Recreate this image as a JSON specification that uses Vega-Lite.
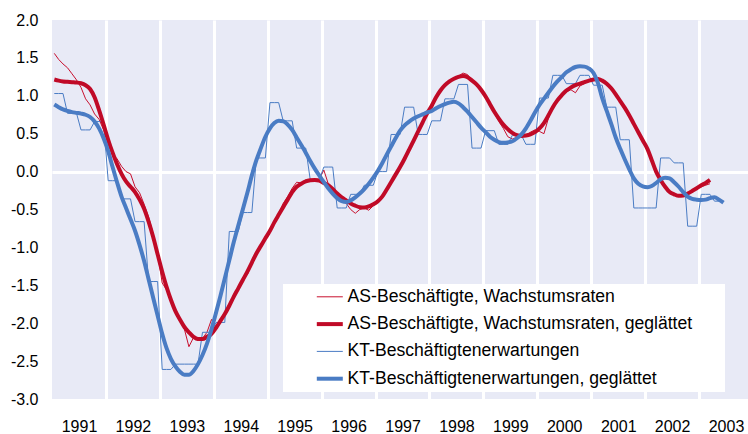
{
  "$schema": "https://vega.github.io/schema/vega-lite/v6.json",
  "width": 696,
  "height": 379,
  "autosize": {"type": "none"},
  "padding": {"left": 52, "top": 20, "right": 0, "bottom": 35},
  "background": "white",
  "config": {
    "font": "Liberation Sans",
    "view": {"fill": "#E8EAF6", "stroke": null},
    "axis": {"labelFont": "Liberation Sans", "labelFontSize": 16, "labelColor": "#000000", "domain": false, "ticks": false, "title": null}
  },
  "data": {"values": [
    {"d":"1991-01","a":1.56,"as":1.215,"k":1.03,"ks":0.885},
    {"d":"1991-02","a":1.48,"as":1.20,"k":1.03,"ks":0.85},
    {"d":"1991-03","a":1.42,"as":1.19,"k":1.03,"ks":0.82},
    {"d":"1991-04","a":1.37,"as":1.185,"k":0.77,"ks":0.80},
    {"d":"1991-05","a":1.29,"as":1.18,"k":0.77,"ks":0.785},
    {"d":"1991-06","a":1.21,"as":1.175,"k":0.77,"ks":0.775},
    {"d":"1991-07","a":1.11,"as":1.165,"k":0.55,"ks":0.765},
    {"d":"1991-08","a":0.96,"as":1.14,"k":0.55,"ks":0.75},
    {"d":"1991-09","a":0.88,"as":1.09,"k":0.55,"ks":0.72},
    {"d":"1991-10","a":0.76,"as":0.98,"k":0.66,"ks":0.66},
    {"d":"1991-11","a":0.69,"as":0.81,"k":0.66,"ks":0.57},
    {"d":"1991-12","a":0.55,"as":0.62,"k":0.66,"ks":0.44},
    {"d":"1992-01","a":0.36,"as":0.42,"k":-0.12,"ks":0.27},
    {"d":"1992-02","a":0.23,"as":0.25,"k":-0.12,"ks":0.06},
    {"d":"1992-03","a":0.17,"as":0.10,"k":-0.12,"ks":-0.14},
    {"d":"1992-04","a":0.07,"as":-0.03,"k":-0.36,"ks":-0.33},
    {"d":"1992-05","a":0.00,"as":-0.13,"k":-0.36,"ks":-0.48},
    {"d":"1992-06","a":-0.03,"as":-0.20,"k":-0.36,"ks":-0.63},
    {"d":"1992-07","a":-0.20,"as":-0.27,"k":-0.66,"ks":-0.78},
    {"d":"1992-08","a":-0.28,"as":-0.37,"k":-0.66,"ks":-0.97},
    {"d":"1992-09","a":-0.43,"as":-0.49,"k":-0.66,"ks":-1.18},
    {"d":"1992-10","a":-0.60,"as":-0.66,"k":-1.45,"ks":-1.42},
    {"d":"1992-11","a":-0.82,"as":-0.86,"k":-1.45,"ks":-1.66},
    {"d":"1992-12","a":-1.08,"as":-1.09,"k":-1.45,"ks":-1.90},
    {"d":"1993-01","a":-1.47,"as":-1.32,"k":-2.61,"ks":-2.14},
    {"d":"1993-02","a":-1.56,"as":-1.52,"k":-2.61,"ks":-2.33},
    {"d":"1993-03","a":-1.72,"as":-1.69,"k":-2.61,"ks":-2.47},
    {"d":"1993-04","a":-1.86,"as":-1.84,"k":-2.54,"ks":-2.57},
    {"d":"1993-05","a":-1.96,"as":-1.95,"k":-2.54,"ks":-2.64},
    {"d":"1993-06","a":-2.08,"as":-2.05,"k":-2.54,"ks":-2.68},
    {"d":"1993-07","a":-2.31,"as":-2.12,"k":-2.54,"ks":-2.68},
    {"d":"1993-08","a":-2.19,"as":-2.18,"k":-2.54,"ks":-2.63},
    {"d":"1993-09","a":-2.23,"as":-2.21,"k":-2.54,"ks":-2.54},
    {"d":"1993-10","a":-2.20,"as":-2.21,"k":-2.12,"ks":-2.42},
    {"d":"1993-11","a":-2.12,"as":-2.18,"k":-2.12,"ks":-2.27},
    {"d":"1993-12","a":-1.95,"as":-2.14,"k":-2.12,"ks":-2.08},
    {"d":"1994-01","a":-2.06,"as":-2.06,"k":-1.99,"ks":-1.86},
    {"d":"1994-02","a":-1.98,"as":-1.97,"k":-1.99,"ks":-1.64},
    {"d":"1994-03","a":-1.88,"as":-1.88,"k":-1.99,"ks":-1.41},
    {"d":"1994-04","a":-1.77,"as":-1.77,"k":-0.79,"ks":-1.17},
    {"d":"1994-05","a":-1.65,"as":-1.65,"k":-0.79,"ks":-0.93},
    {"d":"1994-06","a":-1.53,"as":-1.54,"k":-0.79,"ks":-0.71},
    {"d":"1994-07","a":-1.42,"as":-1.43,"k":-0.54,"ks":-0.50},
    {"d":"1994-08","a":-1.36,"as":-1.32,"k":-0.54,"ks":-0.28},
    {"d":"1994-09","a":-1.21,"as":-1.20,"k":-0.54,"ks":-0.05},
    {"d":"1994-10","a":-1.08,"as":-1.08,"k":0.18,"ks":0.15},
    {"d":"1994-11","a":-0.97,"as":-0.98,"k":0.18,"ks":0.31},
    {"d":"1994-12","a":-0.88,"as":-0.88,"k":0.18,"ks":0.46},
    {"d":"1995-01","a":-0.78,"as":-0.78,"k":0.91,"ks":0.57},
    {"d":"1995-02","a":-0.66,"as":-0.67,"k":0.91,"ks":0.64},
    {"d":"1995-03","a":-0.55,"as":-0.57,"k":0.91,"ks":0.67},
    {"d":"1995-04","a":-0.42,"as":-0.47,"k":0.67,"ks":0.665},
    {"d":"1995-05","a":-0.33,"as":-0.37,"k":0.67,"ks":0.62},
    {"d":"1995-06","a":-0.22,"as":-0.27,"k":0.67,"ks":0.55},
    {"d":"1995-07","a":-0.14,"as":-0.20,"k":0.31,"ks":0.45},
    {"d":"1995-08","a":-0.15,"as":-0.16,"k":0.31,"ks":0.35},
    {"d":"1995-09","a":-0.11,"as":-0.13,"k":0.31,"ks":0.25},
    {"d":"1995-10","a":-0.12,"as":-0.115,"k":-0.11,"ks":0.14},
    {"d":"1995-11","a":-0.10,"as":-0.11,"k":-0.11,"ks":0.04},
    {"d":"1995-12","a":-0.10,"as":-0.12,"k":-0.11,"ks":-0.05},
    {"d":"1996-01","a":0.02,"as":-0.15,"k":0.06,"ks":-0.14},
    {"d":"1996-02","a":-0.16,"as":-0.18,"k":0.06,"ks":-0.22},
    {"d":"1996-03","a":-0.25,"as":-0.23,"k":0.06,"ks":-0.29},
    {"d":"1996-04","a":-0.30,"as":-0.29,"k":-0.48,"ks":-0.35},
    {"d":"1996-05","a":-0.37,"as":-0.34,"k":-0.48,"ks":-0.39},
    {"d":"1996-06","a":-0.42,"as":-0.38,"k":-0.48,"ks":-0.40},
    {"d":"1996-07","a":-0.50,"as":-0.42,"k":-0.30,"ks":-0.38},
    {"d":"1996-08","a":-0.55,"as":-0.45,"k":-0.30,"ks":-0.34},
    {"d":"1996-09","a":-0.50,"as":-0.47,"k":-0.30,"ks":-0.29},
    {"d":"1996-10","a":-0.48,"as":-0.475,"k":-0.18,"ks":-0.23},
    {"d":"1996-11","a":-0.51,"as":-0.46,"k":-0.18,"ks":-0.16},
    {"d":"1996-12","a":-0.45,"as":-0.43,"k":-0.18,"ks":-0.08},
    {"d":"1997-01","a":-0.38,"as":-0.39,"k":0.00,"ks":0.01},
    {"d":"1997-02","a":-0.33,"as":-0.33,"k":0.00,"ks":0.11},
    {"d":"1997-03","a":-0.24,"as":-0.24,"k":0.00,"ks":0.22},
    {"d":"1997-04","a":-0.15,"as":-0.14,"k":0.49,"ks":0.33},
    {"d":"1997-05","a":-0.04,"as":-0.04,"k":0.49,"ks":0.44},
    {"d":"1997-06","a":0.06,"as":0.06,"k":0.49,"ks":0.54},
    {"d":"1997-07","a":0.18,"as":0.17,"k":0.85,"ks":0.61},
    {"d":"1997-08","a":0.29,"as":0.29,"k":0.85,"ks":0.66},
    {"d":"1997-09","a":0.41,"as":0.41,"k":0.85,"ks":0.70},
    {"d":"1997-10","a":0.54,"as":0.53,"k":0.49,"ks":0.73},
    {"d":"1997-11","a":0.66,"as":0.65,"k":0.49,"ks":0.755},
    {"d":"1997-12","a":0.77,"as":0.77,"k":0.49,"ks":0.78},
    {"d":"1998-01","a":0.88,"as":0.87,"k":0.67,"ks":0.80},
    {"d":"1998-02","a":0.98,"as":0.98,"k":0.67,"ks":0.835},
    {"d":"1998-03","a":1.07,"as":1.07,"k":0.67,"ks":0.865},
    {"d":"1998-04","a":1.15,"as":1.14,"k":0.96,"ks":0.89},
    {"d":"1998-05","a":1.18,"as":1.19,"k":0.96,"ks":0.91},
    {"d":"1998-06","a":1.23,"as":1.225,"k":0.96,"ks":0.92},
    {"d":"1998-07","a":1.26,"as":1.25,"k":1.15,"ks":0.90},
    {"d":"1998-08","a":1.30,"as":1.26,"k":1.15,"ks":0.85},
    {"d":"1998-09","a":1.28,"as":1.245,"k":1.15,"ks":0.79},
    {"d":"1998-10","a":1.20,"as":1.20,"k":0.31,"ks":0.72},
    {"d":"1998-11","a":1.16,"as":1.15,"k":0.31,"ks":0.65},
    {"d":"1998-12","a":1.07,"as":1.08,"k":0.31,"ks":0.58},
    {"d":"1999-01","a":0.99,"as":0.99,"k":0.54,"ks":0.52},
    {"d":"1999-02","a":0.88,"as":0.89,"k":0.54,"ks":0.46},
    {"d":"1999-03","a":0.78,"as":0.79,"k":0.54,"ks":0.42},
    {"d":"1999-04","a":0.66,"as":0.70,"k":0.36,"ks":0.39},
    {"d":"1999-05","a":0.57,"as":0.62,"k":0.36,"ks":0.38},
    {"d":"1999-06","a":0.46,"as":0.56,"k":0.36,"ks":0.385},
    {"d":"1999-07","a":0.43,"as":0.51,"k":0.48,"ks":0.40},
    {"d":"1999-08","a":0.45,"as":0.48,"k":0.48,"ks":0.44},
    {"d":"1999-09","a":0.48,"as":0.47,"k":0.48,"ks":0.49},
    {"d":"1999-10","a":0.48,"as":0.475,"k":0.36,"ks":0.57},
    {"d":"1999-11","a":0.52,"as":0.49,"k":0.36,"ks":0.67},
    {"d":"1999-12","a":0.55,"as":0.52,"k":0.36,"ks":0.78},
    {"d":"2000-01","a":0.53,"as":0.57,"k":0.97,"ks":0.88},
    {"d":"2000-02","a":0.50,"as":0.64,"k":0.97,"ks":0.96},
    {"d":"2000-03","a":0.70,"as":0.74,"k":0.97,"ks":1.04},
    {"d":"2000-04","a":0.85,"as":0.85,"k":1.27,"ks":1.12},
    {"d":"2000-05","a":0.93,"as":0.94,"k":1.27,"ks":1.19},
    {"d":"2000-06","a":1.02,"as":1.01,"k":1.27,"ks":1.25},
    {"d":"2000-07","a":1.05,"as":1.07,"k":1.16,"ks":1.31},
    {"d":"2000-08","a":1.08,"as":1.11,"k":1.16,"ks":1.35},
    {"d":"2000-09","a":1.04,"as":1.14,"k":1.16,"ks":1.38},
    {"d":"2000-10","a":1.13,"as":1.16,"k":1.27,"ks":1.39},
    {"d":"2000-11","a":1.16,"as":1.18,"k":1.27,"ks":1.385},
    {"d":"2000-12","a":1.19,"as":1.20,"k":1.27,"ks":1.36},
    {"d":"2001-01","a":1.22,"as":1.215,"k":1.14,"ks":1.30},
    {"d":"2001-02","a":1.24,"as":1.22,"k":1.14,"ks":1.17},
    {"d":"2001-03","a":1.20,"as":1.20,"k":1.14,"ks":0.97},
    {"d":"2001-04","a":1.16,"as":1.16,"k":0.85,"ks":0.80},
    {"d":"2001-05","a":1.10,"as":1.10,"k":0.85,"ks":0.63},
    {"d":"2001-06","a":1.02,"as":1.02,"k":0.85,"ks":0.45},
    {"d":"2001-07","a":0.93,"as":0.93,"k":0.42,"ks":0.30},
    {"d":"2001-08","a":0.84,"as":0.84,"k":0.42,"ks":0.16},
    {"d":"2001-09","a":0.73,"as":0.74,"k":0.42,"ks":0.03},
    {"d":"2001-10","a":0.62,"as":0.63,"k":-0.48,"ks":-0.09},
    {"d":"2001-11","a":0.50,"as":0.52,"k":-0.48,"ks":-0.16},
    {"d":"2001-12","a":0.40,"as":0.41,"k":-0.48,"ks":-0.195},
    {"d":"2002-01","a":0.28,"as":0.30,"k":-0.48,"ks":-0.205},
    {"d":"2002-02","a":0.14,"as":0.15,"k":-0.48,"ks":-0.19},
    {"d":"2002-03","a":0.01,"as":0.00,"k":-0.48,"ks":-0.15},
    {"d":"2002-04","a":-0.10,"as":-0.11,"k":0.18,"ks":-0.10},
    {"d":"2002-05","a":-0.20,"as":-0.20,"k":0.18,"ks":-0.08},
    {"d":"2002-06","a":-0.27,"as":-0.27,"k":0.18,"ks":-0.09},
    {"d":"2002-07","a":-0.31,"as":-0.30,"k":0.115,"ks":-0.14},
    {"d":"2002-08","a":-0.33,"as":-0.32,"k":0.115,"ks":-0.20},
    {"d":"2002-09","a":-0.31,"as":-0.315,"k":0.115,"ks":-0.27},
    {"d":"2002-10","a":-0.28,"as":-0.29,"k":-0.72,"ks":-0.33},
    {"d":"2002-11","a":-0.26,"as":-0.255,"k":-0.72,"ks":-0.36},
    {"d":"2002-12","a":-0.23,"as":-0.22,"k":-0.72,"ks":-0.37},
    {"d":"2003-01","a":-0.20,"as":-0.18,"k":-0.30,"ks":-0.375},
    {"d":"2003-02","a":-0.18,"as":-0.15,"k":-0.30,"ks":-0.37},
    {"d":"2003-03","a":-0.16,"as":-0.11,"k":-0.30,"ks":-0.35},
    {"d":"2003-04","a":null,"as":null,"k":-0.39,"ks":-0.34},
    {"d":"2003-05","a":null,"as":null,"k":-0.39,"ks":-0.37},
    {"d":"2003-06","a":null,"as":null,"k":-0.39,"ks":-0.41}
  ]},
  "transform": [
    {"fold": ["a", "as", "k", "ks"], "as": ["s", "v"]},
    {"filter": "datum.v != null"}
  ],
  "encoding": {
    "x": {
      "field": "d", "type": "temporal", "timeUnit": "utcyearmonth", "bandPosition": 0.5,
      "scale": {"type": "utc", "domain": [{"year": 1991, "month": 1, "date": 1, "utc": true}, {"year": 2003, "month": 11, "date": 29, "utc": true}]},
      "axis": {
        "values": [{"year":1991,"utc":true},{"year":1992,"utc":true},{"year":1993,"utc":true},{"year":1994,"utc":true},{"year":1995,"utc":true},{"year":1996,"utc":true},{"year":1997,"utc":true},{"year":1998,"utc":true},{"year":1999,"utc":true},{"year":2000,"utc":true},{"year":2001,"utc":true},{"year":2002,"utc":true},{"year":2003,"utc":true}],
        "labelExpr": "utcFormat(datum.value, '%Y')",
        "labelOffset": 27, "labelPadding": 19, "labelFlush": false, "labelOverlap": false, "labelBound": false,
        "grid": true, "gridWidth": 3,
        "gridColor": {"condition": {"test": "utcyear(datum.value) == 1991", "value": "transparent"}, "value": "white"}
      }
    },
    "y": {
      "field": "v", "type": "quantitative",
      "scale": {"domain": [-3, 2], "nice": false, "zero": false},
      "axis": {
        "values": [-3, -2.5, -2, -1.5, -1, -0.5, 0, 0.5, 1, 1.5, 2],
        "labelExpr": "replace(format(datum.value, '.1f'), '\u2212', '-')",
        "labelPadding": 14, "grid": true, "gridWidth": 3,
        "gridColor": {"condition": {"test": "datum.value == 0", "value": "white"}, "value": "transparent"}
      }
    },
    "color": {
      "field": "s", "type": "nominal",
      "scale": {"domain": ["a", "as", "k", "ks"], "range": ["#C8102E", "#C00A27", "#4A7CC4", "#4A7CC4"]},
      "legend": {
        "orient": "none", "legendX": 231, "legendY": 264, "title": " ", "titleOrient": "right", "titlePadding": 29,
        "titleFontSize": 16, "direction": "vertical",
        "fillColor": "white", "padding": 4, "symbolType": "stroke", "symbolSize": 676,
        "symbolOffset": 34, "labelOffset": 9, "rowPadding": 8.3, "labelLimit": 600,
        "labelFont": "Liberation Sans", "labelFontSize": 17.6, "labelColor": "#000000",
        "labelExpr": "{'a': 'AS-Beschäftigte, Wachstumsraten', 'as': 'AS-Beschäftigte, Wachstumsraten, geglättet', 'k': 'KT-Beschäftigtenerwartungen', 'ks': 'KT-Beschäftigtenerwartungen, geglättet'}[datum.label]",
        "encode": {"symbols": {"update": {"strokeWidth": {"signal": "datum.value == 'as' || datum.value == 'ks' ? 4 : 1"}}}}
      }
    }
  },
  "layer": [
    {"transform": [{"filter": "datum.s == 'a' || datum.s == 'k'"}], "mark": {"type": "line", "strokeWidth": 1}},
    {"transform": [{"filter": "datum.s == 'as' || datum.s == 'ks'"}], "mark": {"type": "line", "strokeWidth": 4, "interpolate": "monotone"}}
  ]
}
